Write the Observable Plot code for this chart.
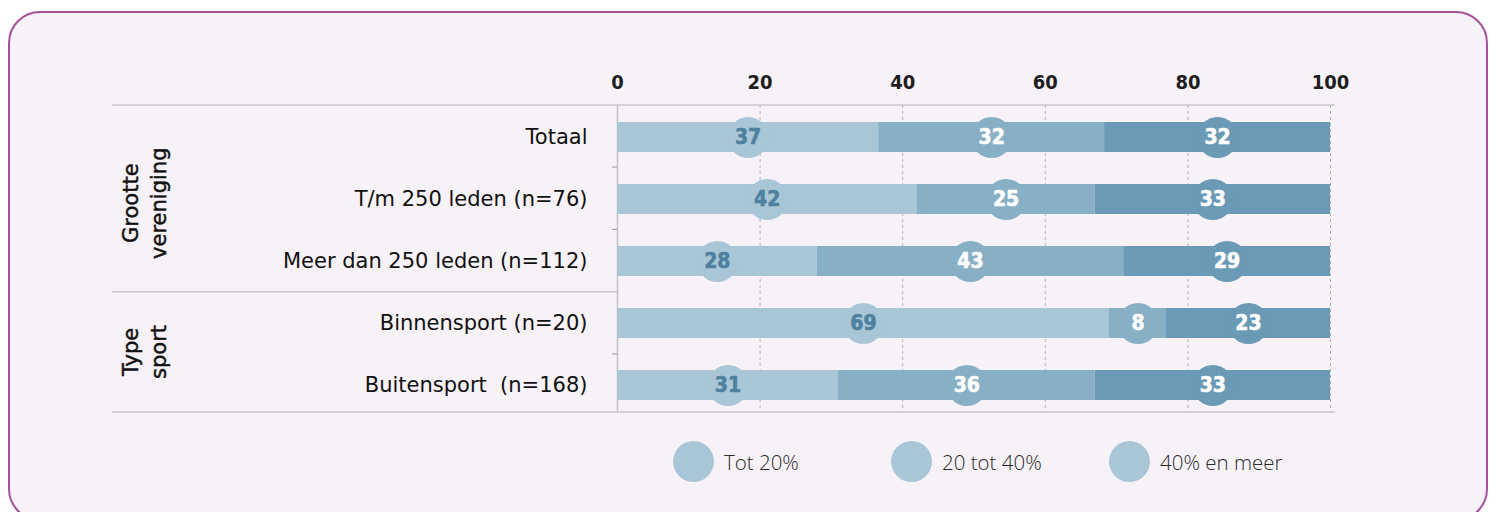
<!DOCTYPE html>
<html>
<head>
<meta charset="utf-8">
<script src="https://cdn.jsdelivr.net/npm/d3@7"></script>
<script src="https://cdn.jsdelivr.net/npm/@observablehq/plot@0.6"></script>
<style>
  html, body { margin: 0; padding: 0; background: #ffffff; }
  body { width: 1492px; height: 512px; position: relative; overflow: hidden; }
  #panel {
    position: absolute; left: 8px; top: 11px; width: 1476px; height: 506px;
    border: 2.5px solid #a4519f; border-radius: 32px; background: #f7f2f8;
  }
  #chart { position: absolute; left: 0; top: 0; }
  #legend {
    position: absolute; left: 673px; top: 441px; display: flex; align-items: center;
    font-family: "Open Sans", sans-serif; font-weight: 300; font-size: 20.5px; color: #2a2a2a;
  }
  .item { display: flex; align-items: center; width: 218px; }
  .sw { width: 41px; height: 41px; border-radius: 50%; margin-right: 10px; flex: none; }
</style>
</head>
<body>
<div id="panel"></div>
<div id="chart"></div>
<div id="legend"></div>
<script>
// ---- data ----
const rows = ["Totaal", "T/m 250 leden (n=76)", "Meer dan 250 leden (n=112)", "Binnensport (n=20)", "Buitensport  (n=168)"];
const groupNames = [["Grootte", "vereniging"], ["Type", "sport"]];
const groupRows = [[0, 1, 2], [3, 4]];
const series = ["Tot 20%", "20 tot 40%", "40% en meer"];
const tot20 = [37, 42, 28, 69, 31];
const tot20tot40 = [32, 25, 43, 8, 36];
const meer40 = [32, 33, 29, 23, 33];
const xTicks = [0, 20, 40, 60, 80, 100];
const colors = ["#a9c6d6", "#87b0c6", "#6a9ab5"];
const legendColors = ["#a9c6d6", "#a9c6d6", "#a9c6d6"];

// ---- table ----
const values = [tot20, tot20tot40, meer40];
const table = [];
rows.forEach((row, i) => {
  const total = values.reduce((s, v) => s + v[i], 0);
  let acc = 0;
  values.forEach((v, j) => {
    const x1 = acc / total * 100;
    acc += v[i];
    const x2 = acc / total * 100;
    table.push({row, series: series[j], idx: j, value: v[i], x1, x2, mid: (x1 + x2) / 2});
  });
});

const font = "DejaVu Sans, sans-serif";
const fontCond = "DejaVu Sans Condensed, DejaVu Sans, sans-serif";

const plot = Plot.plot({
  width: 1492,
  height: 430,
  marginLeft: 617,
  marginRight: 162,
  marginTop: 105,
  marginBottom: 18,
  style: {background: "transparent", fontFamily: font, overflow: "visible"},
  x: {domain: [0, 100], label: null},
  y: {domain: rows, paddingInner: 0.52, paddingOuter: 0.225, align: 0.571, label: null},
  color: {domain: series, range: colors},
  marks: [
    Plot.gridX({ticks: xTicks.filter(d => d > 0), stroke: "#a0a0a0", strokeOpacity: 0.8, strokeDasharray: "3,3"}),
    Plot.ruleX([0], {stroke: "#c4c0c4", strokeWidth: 1.5}),
    Plot.axisX({anchor: "top", ticks: xTicks, tickSize: 0, tickPadding: 17, fontSize: 20, fontWeight: "bold", fontFamily: fontCond, fill: "#1e1e1e", stroke: "#1e1e1e", strokeWidth: 0.7, tickFormat: d => String(d), label: null}),
    Plot.axisY({tickSize: 0, tickPadding: 30, fontSize: 21, fontFamily: font, fill: "#111", stroke: "#111", strokeWidth: 0.45, label: null}),
    Plot.barX(table, {x1: "x1", x2: "x2", y: "row", fill: "series"}),
    Plot.dot(table, {x: "mid", y: "row", r: 20.5, fill: "series", stroke: null}),
    Plot.text(table.filter(d => d.idx === 0), {x: "mid", y: "row", text: d => String(d.value), fill: "#4e80a0", stroke: "#4e80a0", strokeWidth: 0.6, fontSize: 21, fontWeight: "bold", fontFamily: fontCond}),
    Plot.text(table.filter(d => d.idx > 0), {x: "mid", y: "row", text: d => String(d.value), fill: "#ffffff", stroke: "#ffffff", strokeWidth: 0.6, fontSize: 21, fontWeight: "bold", fontFamily: fontCond})
  ]
});
document.getElementById("chart").appendChild(plot);

// ---- decoration from the scales ----
const ys = plot.scale("y");
const yBand = d3.scaleBand(ys.domain, ys.range).paddingInner(ys.paddingInner).paddingOuter(ys.paddingOuter).align(ys.align ?? 0.5);
const bw = yBand.bandwidth(), step = yBand.step();
const yTop = Math.min(...ys.range), yBot = Math.max(...ys.range);
const xs = plot.scale("x");
const x0 = xs.range[0], xEnd = xs.range[1];
const svg = d3.select(plot);
const deco = svg.append("g").attr("stroke", "#c9c5c9").attr("stroke-width", 1.5);
const leftEdge = 112;
deco.append("line").attr("x1", leftEdge).attr("x2", xEnd + 5).attr("y1", yTop).attr("y2", yTop);
deco.append("line").attr("x1", leftEdge).attr("x2", xEnd + 5).attr("y1", yBot).attr("y2", yBot);
groupRows.forEach((g, gi) => {
  g.forEach((ri, k) => {
    if (k === 0) return;
    const yb = yBand(rows[ri]) - (step - bw) / 2;
    deco.append("line").attr("x1", x0 - 5).attr("x2", x0).attr("y1", yb).attr("y2", yb).attr("stroke", "#999").attr("stroke-width", 1);
  });
  if (gi > 0) {
    const yb = yBand(rows[g[0]]) - (step - bw) / 2;
    deco.append("line").attr("x1", leftEdge).attr("x2", x0).attr("y1", yb).attr("y2", yb);
  }
});
// group labels
const gl = svg.append("g").attr("font-family", font).attr("font-size", 21).attr("fill", "#111")
  .attr("stroke", "#111").attr("stroke-width", 0.45).attr("text-anchor", "middle");
groupRows.forEach((g, gi) => {
  const cy = d3.mean(g, ri => yBand(rows[ri]) + bw / 2);
  groupNames[gi].forEach((line, li) => {
    gl.append("text").attr("transform", `translate(${138 + li * 28},${cy + (gi === 0 ? 5 : -2)}) rotate(-90)`).text(line);
  });
});

// ---- legend ----
const legend = d3.select("#legend");
series.forEach((s, i) => {
  const it = legend.append("div").attr("class", "item");
  it.append("div").attr("class", "sw").style("background", legendColors[i]);
  it.append("span").text(s);
});
</script>
</body>
</html>
